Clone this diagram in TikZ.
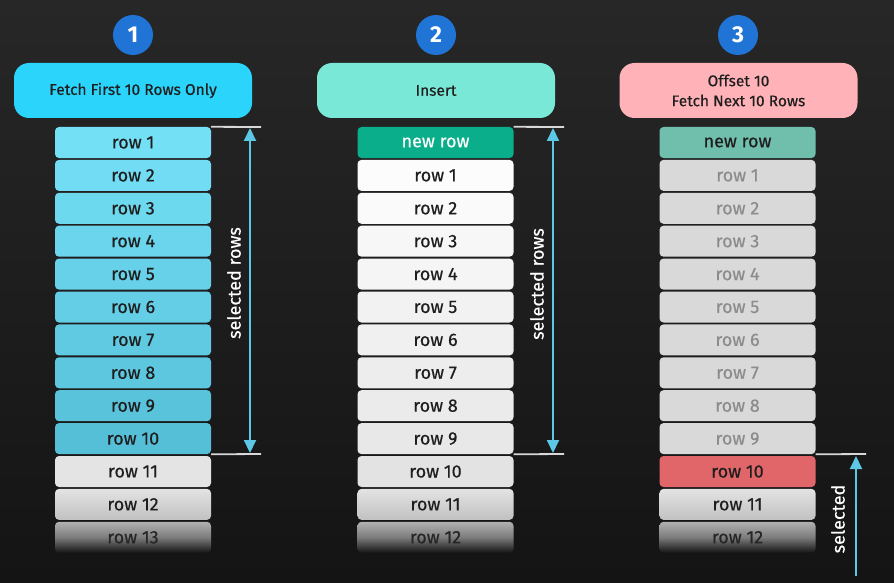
\documentclass[tikz,border=0pt]{standalone}
\usepackage{fontspec}
\setmainfont{Fira Sans}
\newfontfamily\medfont{Fira Sans}[FakeBold=0.4]
\usetikzlibrary{arrows.meta}
\definecolor{bgtop}{HTML}{272727}
\definecolor{bgbot}{HTML}{141414}
\definecolor{stepblue}{HTML}{1F74D6}
\definecolor{hcyan}{HTML}{2AD4FB}
\definecolor{hmint}{HTML}{7AE8D6}
\definecolor{hpink}{HTML}{FFB3B8}
\definecolor{cyantop}{HTML}{74E0F6}
\definecolor{cyanbot}{HTML}{56BFD8}
\definecolor{rowgray}{HTML}{E3E3E3}
\definecolor{greytext}{HTML}{8C8C8C}
\definecolor{greybox}{HTML}{D9D9D9}
\definecolor{newteal}{HTML}{0AAE8A}
\definecolor{newteal3}{HTML}{70BEAC}
\definecolor{redrow}{HTML}{E0666A}
\definecolor{arrowcyan}{HTML}{5CC8E6}
\definecolor{guideline}{HTML}{D8D8D8}
\definecolor{txt}{HTML}{1E1E1E}
\tikzset{
  x=1pt, y=-1pt,
  stepnum/.style={circle, fill=stepblue, minimum size=40pt, inner sep=0pt, text=white, font=\fontsize{23}{23}\selectfont\bfseries},
  header/.style={rounded corners=15pt, minimum width=238pt, minimum height=55pt, inner sep=0pt, text=txt, align=center, font=\medfont\fontsize{15.5}{20}\selectfont},
  rowbox/.style={rounded corners=4pt, minimum width=156pt, minimum height=31pt, inner sep=0pt, text=txt, font=\medfont\fontsize{18}{18}\selectfont},
  fadebox/.style={rowbox, top color=rowgray!78!black, bottom color=bgbot, middle color=rowgray!50!bgbot, text=black!85},
  guide/.style={draw=guideline, line width=1.8pt},
  selarrow/.style={draw=arrowcyan, line width=2pt, -{Triangle[width=12pt,length=13pt]}},
  selarrows/.style={draw=arrowcyan, line width=2pt, {Triangle[width=12pt,length=13pt]}-{Triangle[width=12pt,length=13pt]}},
  sellabel/.style={rotate=90, text=white, font=\medfont\fontsize{18}{18}\selectfont, inner sep=0pt}
}
\begin{document}
\begin{tikzpicture}
\useasboundingbox (0,0) rectangle (894,583);
\shade[top color=bgtop, bottom color=bgbot] (0,0) rectangle (894,583);
% step numbers
\node[stepnum] (n1) at (133,35) {1};
\node[stepnum] (n2) at (436,35) {2};
\node[stepnum] (n3) at (738,35) {3};
% headers
\node[header, fill=hcyan] (h1) at (133,90.5) {Fetch First 10 Rows Only};
\node[header, fill=hmint] (h2) at (436,90.5) {Insert};
\node[header, fill=hpink] (h3) at (738.5,90.5) {Offset 10\\Fetch Next 10 Rows};
% panel 1
\foreach \i in {1,...,10} {
  \pgfmathtruncatemacro{\pc}{100-(\i-1)*11}
  \node[rowbox, fill=cyantop!\pc!cyanbot] (p1r\i) at (133,{142.5+(\i-1)*32.9}) {row \i};
}
\node[rowbox, fill=rowgray!98!white] (p1r11) at (133,{142.5+10*32.9}) {row 11};
\node[rowbox, top color=rowgray, bottom color=rowgray!85!black] (p1r12) at (133,{142.5+11*32.9}) {row 12};
\node[fadebox] (p1r13) at (133,{142.5+12*32.9}) {row 13};
% panel 2
\node[rowbox, fill=newteal, text=white] (p2r0) at (435.5,142.5) {new row};
\foreach \i in {1,...,9} {
  \pgfmathtruncatemacro{\pc}{100-\i*9}
  \node[rowbox, fill=white!\pc!rowgray] (p2r\i) at (435.5,{142.5+\i*32.9}) {row \i};
}
\node[rowbox, fill=rowgray] (p2r10) at (435.5,{142.5+10*32.9}) {row 10};
\node[rowbox, top color=rowgray, bottom color=rowgray!85!black] (p2r11) at (435.5,{142.5+11*32.9}) {row 11};
\node[fadebox] (p2r12) at (435.5,{142.5+12*32.9}) {row 12};
% panel 3
\node[rowbox, fill=newteal3] (p3r0) at (737.5,142.5) {new row};
\foreach \i in {1,...,9} {
  \node[rowbox, fill=greybox, text=greytext] (p3r\i) at (737.5,{142.5+\i*32.9}) {row \i};
}
\node[rowbox, fill=redrow] (p3r10) at (737.5,{142.5+10*32.9}) {row 10};
\node[rowbox, top color=rowgray, bottom color=rowgray!85!black] (p3r11) at (737.5,{142.5+11*32.9}) {row 11};
\node[fadebox] (p3r12) at (737.5,{142.5+12*32.9}) {row 12};
% selection markers panel 1
\coordinate (g1t) at (261,127);
\coordinate (g1b) at (261,454);
\coordinate (a1t) at (250,128);
\coordinate (a1b) at (250,453);
\draw[guide] (p1r1.north east) -- (g1t);
\draw[guide] (p1r10.south east) -- (g1b);
\draw[selarrows] (a1t) -- (a1b);
\node[sellabel] (l1) at (234,283) {selected rows};
% panel 2
\coordinate (g2t) at (564,127);
\coordinate (g2b) at (564,454);
\coordinate (a2t) at (553,128);
\coordinate (a2b) at (553,453);
\draw[guide] (p2r0.north east) -- (g2t);
\draw[guide] (p2r9.south east) -- (g2b);
\draw[selarrows] (a2t) -- (a2b);
\node[sellabel] (l2) at (537,284) {selected rows};
% panel 3
\coordinate (g3b) at (866,454);
\coordinate (a3s) at (856,576);
\coordinate (a3e) at (856,456);
\draw[guide] (p3r9.south east) -- (g3b);
\draw[selarrow] (a3s) -- (a3e);
\node[sellabel] (l3) at (838,519) {selected};
\end{tikzpicture}
\end{document}
